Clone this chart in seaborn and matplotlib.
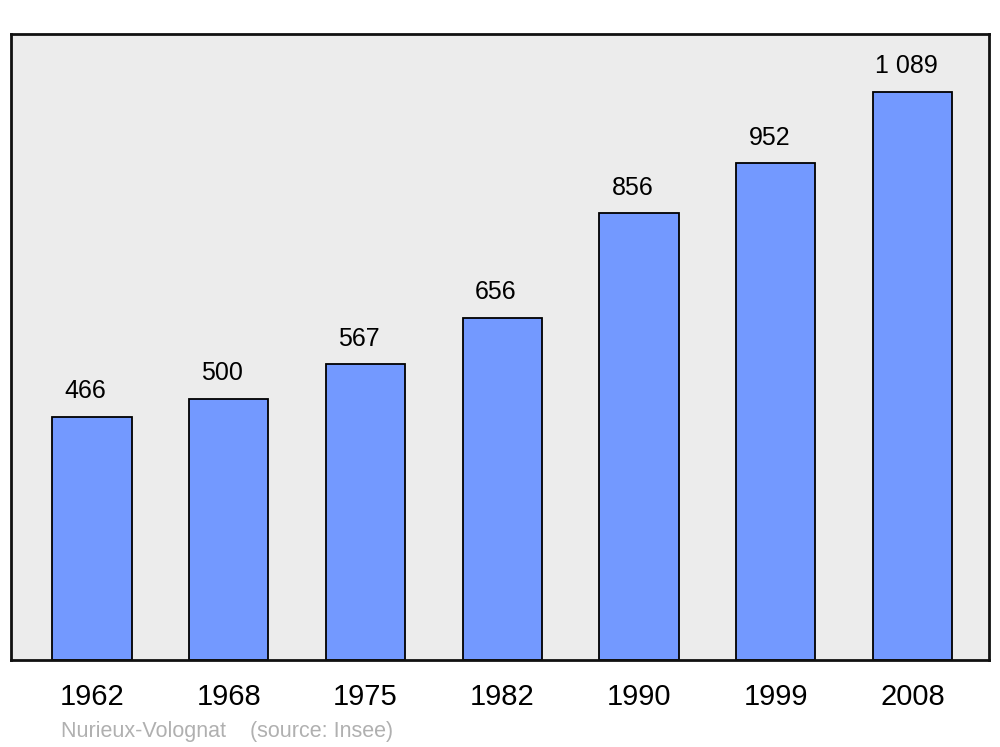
import seaborn as sns
import matplotlib.pyplot as plt
import pandas as pd

years = ['1962', '1968', '1975', '1982', '1990', '1999', '2008']
population = [466, 500, 567, 656, 856, 952, 1089]
value_labels = ['466', '500', '567', '656', '856', '952', '1 089']
commune = 'Nurieux-Volognat'
source = '(source: Insee)'

df = pd.DataFrame({'year': years, 'population': population})

sns.set_style('white')
plt.rcParams['font.family'] = ['Liberation Sans', 'DejaVu Sans']

fig = plt.figure(figsize=(10, 7.47), dpi=100)
ax = fig.add_axes([0.011, 1 - 660 / 747, 0.978, 626 / 747])
ax.set_facecolor('#ececec')

sns.barplot(data=df, x='year', y='population', color='#7399ff', saturation=1,
            edgecolor='black', linewidth=1.3, width=0.58, ax=ax)

for i, (v, lab) in enumerate(zip(population, value_labels)):
    ax.annotate(lab, (i, v), xytext=(-4.5, 18.5), textcoords='offset points',
                ha='center', va='center', fontsize=18, color='black')

ax.set_xlim(-0.592, 6.56)
ax.set_ylim(0, 1200)
ax.set_yticks([])
ax.set_xlabel('')
ax.set_ylabel('')
ax.tick_params(axis='x', length=0, labelsize=21, pad=16.5, labelcolor='black')
for lbl in ax.get_xticklabels():
    lbl.set_x(lbl.get_position()[0])
for s in ax.spines.values():
    s.set_visible(True)
    s.set_linewidth(2)
    s.set_color('#111111')

fig.text(61 / 1000, 1 - 731 / 747, commune + '    ' + source, color='#b0b0b0',
         fontsize=15.5, va='center', ha='left')

fig.savefig('out.png', dpi=100)
